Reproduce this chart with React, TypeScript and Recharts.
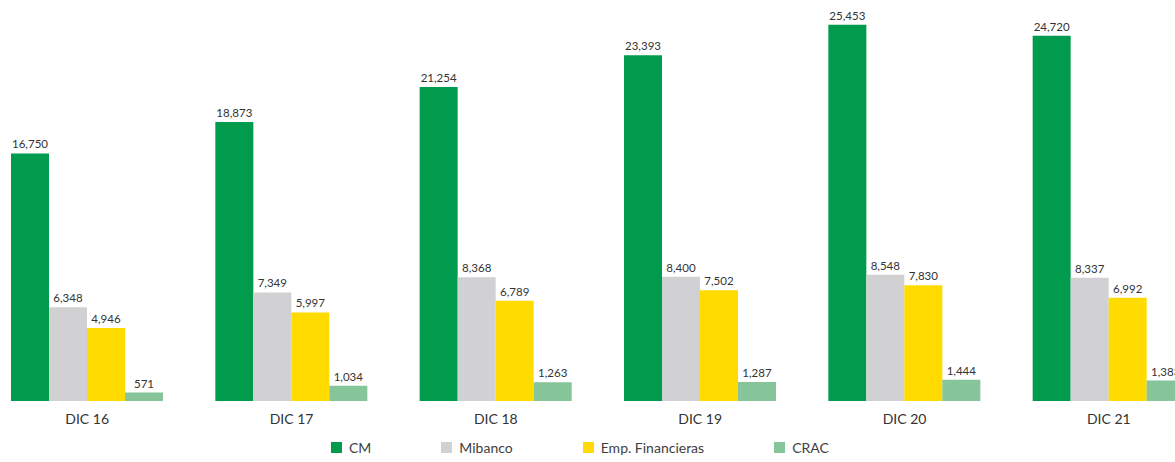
import React from 'react';
import { BarChart, Bar, XAxis, YAxis, LabelList, Legend } from 'recharts';

const periods = ['DIC 16', 'DIC 17', 'DIC 18', 'DIC 19', 'DIC 20', 'DIC 21'];
const cm = [16750, 18873, 21254, 23393, 25453, 24720];
const mibanco = [6348, 7349, 8368, 8400, 8548, 8337];
const empFinancieras = [4946, 5997, 6789, 7502, 7830, 6992];
const crac = [571, 1034, 1263, 1287, 1444, 1383];

const series = [
  { key: 'cm', name: 'CM', color: '#009b4c' },
  { key: 'mibanco', name: 'Mibanco', color: '#d1d1d3' },
  { key: 'emp', name: 'Emp. Financieras', color: '#ffdb00' },
  { key: 'crac', name: 'CRAC', color: '#86c49a' },
];

const data = periods.map((p, i) => ({
  period: p,
  cm: cm[i],
  mibanco: mibanco[i],
  emp: empFinancieras[i],
  crac: crac[i],
}));

const font = 'Lato, "Open Sans", sans-serif';
const fmt = (v: any) => Number(v).toLocaleString('en-US');

function LegendContent() {
  return (
    <div style={{ display: 'flex', gap: 70, fontFamily: font, fontSize: 14, color: '#404040' }}>
      {series.map((s) => (
        <div key={s.key} style={{ display: 'flex', alignItems: 'center', gap: 7 }}>
          <span style={{ width: 11, height: 11, background: s.color, display: 'inline-block' }} />
          <span>{s.name}</span>
        </div>
      ))}
    </div>
  );
}

export default function App() {
  return (
    <div style={{ position: 'absolute', left: 0, top: 0, width: 1175, height: 462, overflow: 'hidden', background: '#fff' }}>
      <div style={{ position: 'relative', left: -15, top: 0 }}>
        <BarChart
          width={1226}
          height={462}
          data={data}
          margin={{ top: 2, right: 0, bottom: 11, left: 0 }}
          barCategoryGap={26}
          barGap={0}
        >
          <XAxis
            dataKey="period"
            axisLine={false}
            tickLine={false}
            tickMargin={7}
            tick={{ fill: '#333', fontSize: 14, fontFamily: font }}
            interval={0}
          />
          <YAxis hide domain={[0, 27000]} />
          <Legend
            verticalAlign="bottom"
            content={<LegendContent />}
            wrapperStyle={{ top: 439, left: 346, width: 520, height: 20, bottom: 'auto' }}
          />
          {series.map((s) => (
            <Bar key={s.key} dataKey={s.key} name={s.name} fill={s.color} barSize={38} isAnimationActive={false}>
              <LabelList
                dataKey={s.key}
                position="top"
                offset={5}
                formatter={fmt}
                style={{ fill: '#333', fontSize: 11.5, fontFamily: font }}
              />
            </Bar>
          ))}
        </BarChart>
      </div>
    </div>
  );
}
